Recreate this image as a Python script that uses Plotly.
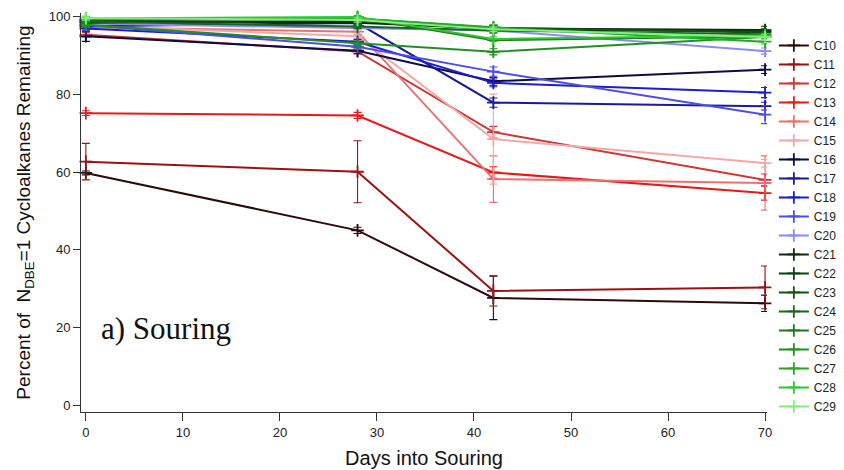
import plotly.graph_objects as go

days = [0, 28, 42, 70]

names = ["C10", "C11", "C12", "C13", "C14", "C15", "C16", "C17", "C18", "C19",
         "C20", "C21", "C22", "C23", "C24", "C25", "C26", "C27", "C28", "C29"]

colors = ["#2b0a0a", "#9c1212", "#cf3535", "#e61a1a", "#e87272", "#f2a8a8",
          "#0c0c42", "#1a1a99", "#1c1ccc", "#4d4de6", "#8c8cf0",
          "#0c2a0c", "#0f3d0f", "#145214", "#1a661a", "#1f7a1f", "#238f23",
          "#26a826", "#2ec82e", "#80ee80"]

C10 = [59.8, 45.0, 27.6, 26.2]
C11 = [62.7, 60.1, 29.4, 30.3]
C12 = [95.4, 91.1, 70.3, 58.0]
C13 = [75.2, 74.6, 59.9, 54.6]
C14 = [97.3, 96.2, 58.2, 57.2]
C15 = [97.8, 95.0, 68.5, 62.3]
C16 = [95.0, 91.3, 83.4, 86.4]
C17 = [97.6, 98.4, 77.9, 77.0]
C18 = [97.0, 93.6, 83.0, 80.5]
C19 = [97.9, 92.3, 85.9, 74.8]
C20 = [98.3, 97.2, 96.5, 91.2]
C21 = [99.0, 98.5, 97.0, 96.6]
C22 = [98.5, 99.0, 96.8, 96.3]
C23 = [99.2, 99.5, 97.2, 96.0]
C24 = [98.8, 97.5, 96.5, 95.5]
C25 = [99.3, 99.8, 94.0, 95.0]
C26 = [98.0, 93.2, 91.0, 94.8]
C27 = [99.5, 99.6, 97.3, 93.6]
C28 = [99.6, 100.0, 94.3, 95.2]
C29 = [99.7, 99.2, 96.8, 94.8]

E10 = [0.5, 0.8, 5.6, 2.1]
E11 = [4.7, 8.0, 3.9, 5.5]
E12 = [0.6, 0.6, 1.5, 1.5]
E13 = [0.6, 0.8, 1.5, 1.8]
E14 = [0.6, 0.8, 6.0, 7.0]
E15 = [0.5, 0.6, 11.6, 1.0]
E16 = [1.3, 0.8, 1.0, 1.0]
E17 = [0.6, 0.6, 1.2, 1.0]
E18 = [0.6, 0.6, 1.0, 1.3]
E19 = [0.6, 0.6, 1.2, 2.3]
E20 = [0.5, 0.5, 0.8, 0.8]
E21 = [0.5, 0.6, 0.8, 1.0]
E22 = [0.5, 0.5, 0.6, 0.6]
E23 = [0.5, 0.5, 0.6, 0.6]
E24 = [0.5, 0.5, 0.6, 0.6]
E25 = [0.5, 0.5, 3.0, 0.6]
E26 = [0.5, 0.6, 0.8, 0.6]
E27 = [0.5, 0.5, 0.6, 0.6]
E28 = [0.5, 1.5, 0.6, 0.6]
E29 = [0.5, 0.5, 0.6, 0.6]

values = [C10, C11, C12, C13, C14, C15, C16, C17, C18, C19,
          C20, C21, C22, C23, C24, C25, C26, C27, C28, C29]
errors = [E10, E11, E12, E13, E14, E15, E16, E17, E18, E19,
          E20, E21, E22, E23, E24, E25, E26, E27, E28, E29]

fig = go.Figure()
for name, col, vals, err in zip(names, colors, values, errors):
    fig.add_trace(go.Scatter(
        x=days, y=vals, name=name, mode="lines+markers",
        line=dict(color=col, width=2),
        marker=dict(symbol="cross-thin", size=9, line=dict(color=col, width=1.8)),
        error_y=dict(type="data", array=err, visible=True, color=col,
                     thickness=1.1, width=4),
        cliponaxis=False,
    ))

fig.add_annotation(
    x=1.4, y=19.8, xref="x", yref="y", text="a) Souring", showarrow=False,
    xanchor="left", yanchor="middle",
    font=dict(family="Liberation Serif, Times New Roman, serif", size=31, color="#111"),
)

axis_font = dict(family="Liberation Sans, Arial, sans-serif", size=13, color="#222")
fig.update_layout(
    width=836, height=462,
    margin=dict(l=73, r=77, t=5, b=58, autoexpand=False),
    paper_bgcolor="white", plot_bgcolor="white",
    showlegend=True,
    legend=dict(x=1.01, xanchor="left", y=0.955, yanchor="top",
                font=dict(family="Liberation Sans, Arial, sans-serif", size=12, color="#222"),
                bgcolor="rgba(0,0,0,0)", borderwidth=0, tracegroupgap=0),
    xaxis=dict(range=[-0.5, 70.2], tickvals=[0, 10, 20, 30, 40, 50, 60, 70],
               automargin=False,
               showgrid=False, zeroline=False, showline=True, linecolor="#333",
               linewidth=1, ticks="outside", ticklen=8, tickcolor="#333",
               tickfont=axis_font,
               title=dict(text="Days into Souring", standoff=12,
                          font=dict(family="Liberation Sans, Arial, sans-serif", size=20, color="#111"))),
    yaxis=dict(range=[-1.8, 101], tickvals=[0, 20, 40, 60, 80, 100],
               automargin=False,
               showgrid=False, zeroline=False, showline=True, linecolor="#333",
               linewidth=1, ticks="outside", ticklen=7, tickcolor="#333",
               tickfont=axis_font,
               title=dict(text="Percent of  N<sub>DBE</sub>=1 Cycloalkanes Remaining", standoff=13,
                          font=dict(family="Liberation Sans, Arial, sans-serif", size=19, color="#111"))),
)

fig.write_html("out.html")
